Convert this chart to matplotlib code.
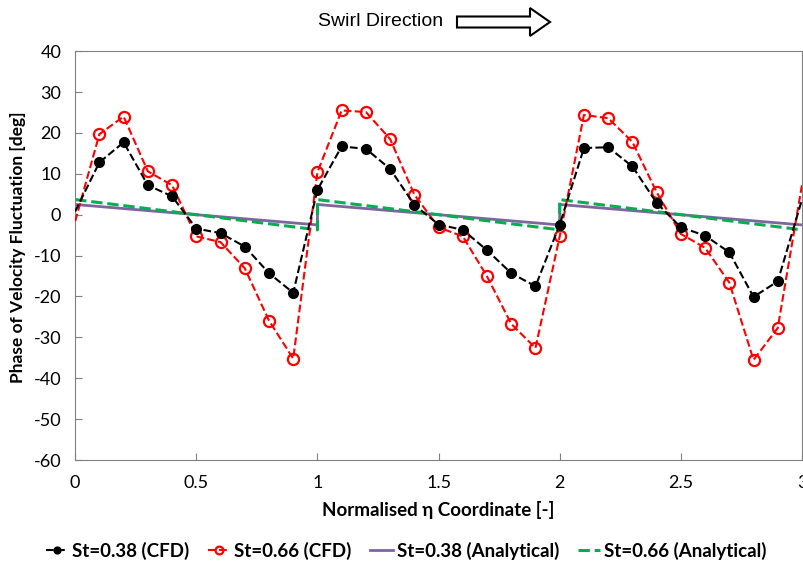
import numpy as np
import matplotlib.pyplot as plt
from matplotlib.patches import FancyArrow
from matplotlib.transforms import IdentityTransform

# normalised eta coordinate of the CFD monitor points
eta = [round(0.1 * i, 1) for i in range(31)]

# phase of velocity fluctuation [deg], CFD
st038_cfd = [0.8, 12.8, 17.7, 7.2, 4.5, -3.4, -4.5, -7.8, -14.3, -19.1,
             6.1, 16.7, 16.1, 11.2, 2.4, -2.4, -3.7, -8.7, -14.3, -17.5,
             -2.4, 16.3, 16.5, 11.8, 2.9, -3.1, -5.1, -9.2, -20.1, -16.3,
             3.7]
st066_cfd = [-1.6, 19.7, 24.0, 10.6, 7.2, -5.3, -6.7, -13.1, -25.9, -35.2,
             10.4, 25.5, 25.1, 18.5, 4.9, -3.1, -5.3, -15.1, -26.7, -32.6,
             -5.3, 24.4, 23.6, 17.8, 5.5, -4.7, -8.1, -16.6, -35.5, -27.7,
             7.3]

# analytical sawtooth, one ramp per sector
eta_an = [0, 1, 1, 2, 2, 3]
st038_an = [2.5, -2.5, 2.5, -2.5, 2.5, -2.5]
st066_an = [3.7, -3.7, 3.7, -3.7, 3.7, -3.7]

plt.rcParams['font.family'] = ['Lato', 'DejaVu Sans']
plt.rcParams['axes.unicode_minus'] = False

fig = plt.figure(figsize=(8.04, 5.68), dpi=100)
ax = fig.add_axes([0.0935, 0.19, 0.904, 0.72])

inner = slice(1, -1)
ax.plot(eta, st038_cfd, '--', color='black', lw=1.5, marker='o', ms=7,
        markevery=inner, label='St=0.38 (CFD)', zorder=4)
ax.plot(eta, st066_cfd, '--', color='#ff0000', lw=1.5, marker='o', ms=8,
        mfc='none', mew=1.6, markevery=inner, label='St=0.66 (CFD)', zorder=3)
ax.plot(eta_an, st038_an, '-', color='#8064a2', lw=2, label='St=0.38 (Analytical)', zorder=2)
ax.plot(eta_an, st066_an, '--', color='#00b050', lw=2.2, label='St=0.66 (Analytical)', zorder=2)

ax.set_xlim(0, 3)
ax.set_ylim(-60, 40)
ax.set_xticks([0, 0.5, 1, 1.5, 2, 2.5, 3])
ax.set_xticklabels(['0', '0.5', '1', '1.5', '2', '2.5', '3'])
ax.set_yticks(range(-60, 41, 10))
ax.tick_params(direction='in', length=5, color='#808080', labelsize=13)
ax.tick_params(axis='x', pad=11)
ax.tick_params(axis='y', pad=10)
for s in ax.spines.values():
    s.set_color('#808080')

ax.set_xlabel('Normalised η Coordinate [-]', fontsize=13.5, fontweight='bold', labelpad=7)
ax.set_ylabel('Phase of Velocity Fluctuation [deg]', fontsize=12.5, fontweight='bold')
ax.yaxis.set_label_coords(-0.067, 0.52)

fig.legend(loc='center', bbox_to_anchor=(0.505, 0.03), ncol=4, frameon=False,
           handlelength=1.2, handletextpad=0.2, columnspacing=1.0, markerscale=0.7,
           prop={'weight': 'bold', 'size': 13.5})

# swirl direction annotation with hollow arrow
fig.text(0.473, 0.962, 'Swirl Direction', ha='center', va='center',
         fontsize=14, family='Liberation Sans')
fig.add_artist(FancyArrow(457, 546, 93, 0, width=11, head_width=28, head_length=20,
                          length_includes_head=True, transform=IdentityTransform(),
                          fc='white', ec='black', lw=1.5))

fig.savefig('out.png', dpi=100)
